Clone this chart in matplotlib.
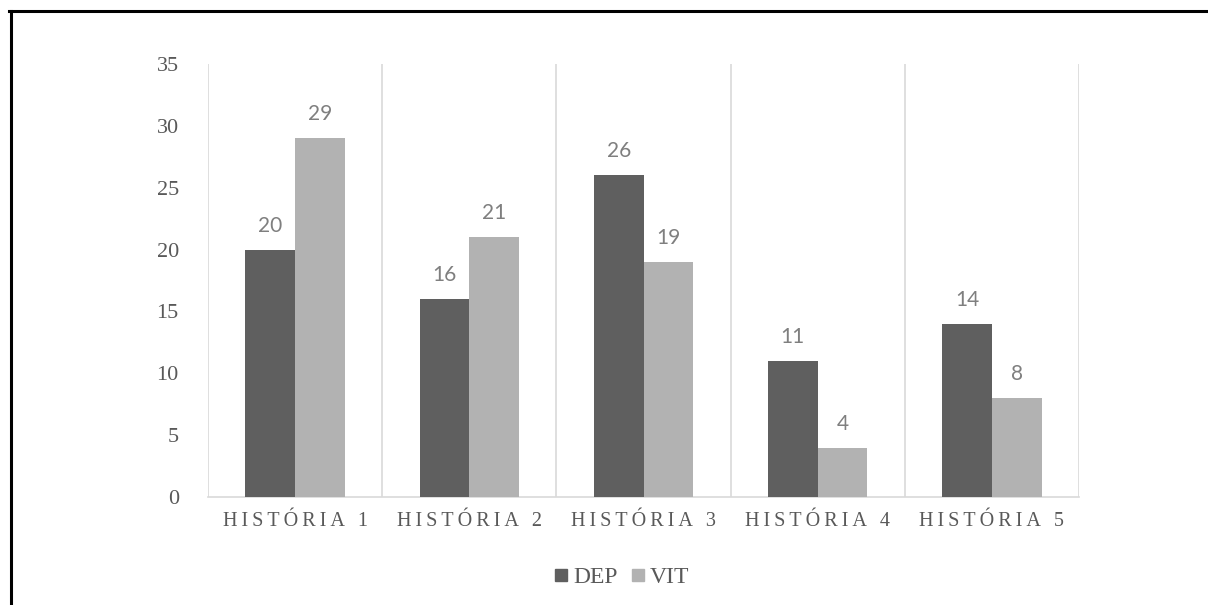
import matplotlib.pyplot as plt
import numpy as np
from matplotlib.lines import Line2D

# data
categories = ["HISTÓRIA 1", "HISTÓRIA 2", "HISTÓRIA 3", "HISTÓRIA 4", "HISTÓRIA 5"]
dep = [20, 16, 26, 11, 14]
vit = [29, 21, 19, 4, 8]
series_names = ["DEP", "VIT"]

dep_color = "#5f5f5f"
vit_color = "#b2b2b2"
grid_color = "#d9d9d9"
text_color = "#595959"
label_color = "#7f7f7f"


def spaced(s):
    # fake letter spacing with thin spaces
    return "\u2009".join(s)


fig = plt.figure(figsize=(12.08, 6.05), dpi=100)
ax = fig.add_axes([0.1722, 0.1785, 0.8932 - 0.1722, 0.8942 - 0.1785])

x = np.arange(len(categories))
w = 0.285
b1 = ax.bar(x - w / 2, dep, w, color=dep_color, zorder=3)
b2 = ax.bar(x + w / 2, vit, w, color=vit_color, zorder=3)

for bars, vals in ((b1, dep), (b2, vit)):
    for r, v in zip(bars, vals):
        ax.annotate(str(v), (r.get_x() + r.get_width() / 2, v),
                    xytext=(0, 10), textcoords="offset points",
                    ha="center", va="bottom", fontsize=15,
                    color=label_color, family="Lato")

ax.set_xlim(-0.5, len(categories) - 0.5)
ax.set_ylim(0, 35)
ax.set_yticks(range(0, 36, 5))
ax.set_xticks(x)
ax.set_xticklabels([spaced(c) for c in categories], family="Liberation Serif",
                   fontsize=14.5, color=text_color)

# category separators
for s in np.arange(-0.5, len(categories), 1):
    ax.axvline(s, color=grid_color, lw=1.2, zorder=1)

for sp in ["left", "right", "top"]:
    ax.spines[sp].set_visible(False)
ax.spines["bottom"].set_color(grid_color)
ax.spines["bottom"].set_linewidth(1.2)
ax.tick_params(axis="both", length=0)
ax.tick_params(axis="y", pad=21)
ax.tick_params(axis="x", pad=11)
for t in ax.get_yticklabels():
    t.set_family("Liberation Serif")
    t.set_fontsize(16)
    t.set_color(text_color)

handles = [Line2D([], [], marker="s", ls="", color=c, markersize=9) for c in (dep_color, vit_color)]
leg = fig.legend(handles, series_names, loc="center", bbox_to_anchor=(0.514, 0.046),
                 ncol=2, frameon=False, handlelength=0.7, handletextpad=0.15,
                 columnspacing=0.5, prop={"family": "Liberation Serif", "size": 17})
for t in leg.get_texts():
    t.set_color(text_color)

# outer frame (left and top edges visible in the reference)
fig.add_artist(Line2D([0.0087, 0.0087], [0, 0.982], color="black", lw=2.2, transform=fig.transFigure))
fig.add_artist(Line2D([0.0078, 1.0], [0.981, 0.981], color="black", lw=2.2, transform=fig.transFigure))

fig.savefig("out.png", dpi=100)
